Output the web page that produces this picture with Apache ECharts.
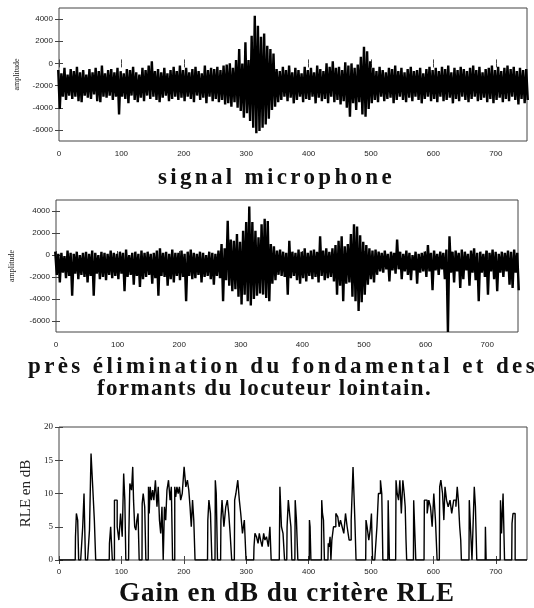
<!DOCTYPE html>
<html>
<head>
<meta charset="utf-8">
<script src="https://cdn.jsdelivr.net/npm/echarts@6.0.0/dist/echarts.min.js"></script>
<style>
  body { margin: 0; background: #fff; }
  #wrap { position: relative; width: 534px; height: 608px; overflow: hidden; }
  #chart { width: 534px; height: 608px; }
  .cap {
    position: absolute;
    font-family: 'Liberation Serif', serif;
    font-weight: bold;
    color: #111;
    white-space: nowrap;
    line-height: 1;
  }
</style>
</head>
<body>
<div id="wrap">
  <div id="chart"></div>
  <div class="cap" id="t1">signal microphone</div>
  <div class="cap" id="t2a">près élimination du fondamental et des</div>
  <div class="cap" id="t2b">formants du locuteur lointain.</div>
  <div class="cap" id="t3">Gain en dB du critère RLE</div>
</div>
<script>
// échantillons toutes les 5 unités, de 0 à 750
const STEP = 5

// signal microphone : enveloppe haute / basse
const micHi = [
  -600, -900, -400, -1000, -500, -700, -300, -800, -600, -1000,
  -500, -800, -400, -700, -200, -900, -600, -500, -800, -400,
  -700, -900, -500, -600, -300, -800, -1000, -400, -600, -200,
  200, -700, -500, -800, -400, -900, -600, -300, -700, -200,
  -600, -400, -800, -500, -300, -700, -900, -200, -600, -400,
  -500, -300, -600, -200, -100, 0, -400, 300, 1300, 0,
  1900, 300, 2500, 4300, 3400, 2400, 2700, 1600, 1300, 900,
  -500, -700, -300, -600, -200, -800, -400, -600, -900, -300,
  -600, -400, -800, -200, -500, -700, 0, -300, 200, -400,
  -300, -600, 100, -200, 0, -400, -100, 600, 1500, 1100,
  200, -400, -700, -300, -600, -800, -400, -500, -200, -700,
  -400, -800, -500, -300, -700, -600, -400, -900, -500, -300,
  -600, -400, -700, -300, -500, -200, -800, -400, -600, -300,
  -500, -700, -400, -200, -600, -300, -800, -500, -400, -200,
  -600, -300, -700, -400, -200, -500, -300, -700, -400, -600,
  -500
]
const micLo = [
  -4100, -3000, -3300, -2900, -3200, -3000, -3400, -3500, -2900, -3100,
  -3200, -2800, -3400, -3500, -3000, -3100, -2900, -3300, -3000, -4600,
  -3000, -3200, -3600, -2900, -3300, -3500, -3100, -3400, -2900, -3200,
  -3000, -3300, -3500, -3100, -2900, -3400, -3200, -3000, -3300, -3100,
  -3400, -3000, -3200, -3500, -2900, -3300, -3100, -3600, -3000, -3400,
  -3200, -3500, -3300, -3700, -3600, -3900, -3500, -4000, -4300, -4900,
  -4500, -5200, -5800, -6300, -6100, -5800, -5500, -5000, -4200, -3900,
  -3500, -3300, -3000, -3400, -3100, -3600, -3300, -3000, -3500, -3200,
  -3300, -3000, -3600, -3100, -3400, -3200, -3600, -3000, -3500, -3300,
  -3700, -3400, -4000, -4800, -3600, -4200, -3500, -4600, -4800, -4100,
  -3600, -3300, -3500, -3000, -3400, -3200, -3100, -3600, -3300, -3000,
  -3300, -3500, -3100, -3400, -3000, -3300, -3600, -3200, -3000, -3400,
  -3200, -3500, -3000, -3400, -3300, -3100, -3600, -3200, -3400, -3000,
  -3300, -3500, -3200, -3000, -3400, -3300, -3100, -3500, -3200, -3600,
  -3300, -3100, -3500, -3200, -3400, -3000, -3300, -3700, -3200, -3600,
  -3300
]

// après élimination du fondamental et des formants
const cleanHi = [
  300, 100, 200, -100, 400, 200, 100, 300, 0, 200,
  300, 100, 400, 200, 0, 300, 200, 100, 400, 200,
  100, 300, 200, 500, 0, 200, 300, 100, 400, 200,
  300, 100, 200, 400, 600, 200, 300, 100, 500, 200,
  200, 400, 100, 300, 500, 200, 100, 300, 200, 0,
  300, 200, 100, 400, 1000, 600, 3100, 1400, 1300, 1900,
  1200, 2200, 3000, 4400, 3000, 2200, 1600, 2800, 3300, 3100,
  1000, 800, 400, 500, 300, 200, 1300, 300, 200, 500,
  300, 600, 200, 400, 500, 300, 1700, 400, 600, 300,
  600, 900, 1300, 1700, 800, 1000, 1900, 2800, 2600, 1800,
  1200, 900, 600, 400, 500, 300, 200, 400, 100, 300,
  200, 1400, 300, 100, 400, 200, 0, 300, 100, 200,
  300, 900, 200, 400, 100, 300, 200, 500, 1700, 300,
  400, 200, 500, 300, 100, 400, 600, 200, 300, 100,
  400, 200, 500, 300, 100, 300, 200, 400, 300, 500,
  200
]
const cleanLo = [
  -1800, -2500, -1600, -2100, -1900, -3700, -1700, -2200, -1800, -2000,
  -2500, -1900, -3700, -1700, -2200, -2000, -2300, -1800, -2100, -1900,
  -2200, -1700, -3300, -2000, -1800, -2700, -1900, -2900, -2200, -2000,
  -1800, -2600, -2100, -3700, -1900, -2000, -2800, -2200, -2500, -1900,
  -2300, -2000, -4200, -1900, -2200, -2100, -1800, -2500, -2000, -1900,
  -2200, -2700, -1900, -2100, -4200, -2300, -2800, -3300, -3100, -3800,
  -4500, -3600, -4200, -4600, -4000, -3700, -3500, -3600, -3900, -4200,
  -2600, -2300, -1800, -1900, -2000, -3600, -2100, -1900, -2300, -2600,
  -2100, -2400, -1900, -2200, -2000, -2500, -1900, -2300, -2100, -2000,
  -2400, -3600, -2800, -4200, -2600, -2500, -3800, -4200, -5100, -4300,
  -3600, -2700, -2200, -2500, -1800, -1500, -1600, -1300, -2400, -1400,
  -1700, -1300, -2200, -1500, -1800, -2300, -1400, -2600, -1600, -1500,
  -2000, -1500, -3200, -1400, -1800, -1300, -2200, -7000, -1600, -2500,
  -1500, -3000, -2200, -1400, -2800, -1600, -2300, -4200, -1600, -2000,
  -3600, -1500, -2200, -3300, -1600, -2000, -1500, -2700, -3000, -1600,
  -3200
]

// gain RLE en dB
const rlePos = [
  0, 26, 26.8, 28.9, 31, 32,
  37.5, 38.5, 41.7, 43,
  48.5, 49.2, 53.5, 55.6, 57.7, 59.9,
  80.5, 81.2, 84.4, 86.5,
  88.5, 89.2, 91.9, 94.6, 97.3, 100, 102.6, 104.7, 106.3, 107.9,
  111.5, 112.2, 114.9, 117.6, 118.7, 120.2, 122.4, 124, 125.6, 127.7, 129.3,
  133, 133.6, 136.3, 138.4, 140,
  143, 143.8, 145.3, 147, 149.1, 151, 153, 156, 158, 160, 162, 164, 166, 168, 170, 172, 174, 177, 179, 181, 183,
  185, 186, 188, 190, 192, 194, 196, 199, 202, 204.5, 207, 209, 211, 213, 215, 217, 219,
  238, 239, 241.5, 244, 246, 250, 251, 253, 255,
  259, 260, 262.5, 266, 268.5, 271, 273, 275.5, 278,
  281, 282, 285, 288, 290, 292.5, 295.5, 298.5, 301,
  312, 313, 315, 318, 320, 322, 324, 327, 329, 331, 334, 337, 339, 341,
  353, 355, 358, 360, 363,
  365, 366, 369, 371, 372.3, 374,
  378, 379, 382, 383.5,
  401, 401.7, 403, 404.4,
  420.5, 421.5, 423, 424.7, 426,
  431, 432, 433.8, 435, 436.5, 438, 441.8, 445.5, 448, 449.8, 452.4, 455, 457.8, 460.5, 463, 466.9, 469.6, 472.8, 475.5, 476.5,
  491.5, 492.5, 495, 497.9, 499.4, 502, 503,
  509, 510, 513.8, 516.5, 518, 520,
  527, 528, 531,
  539.5, 540.7, 543.3, 545, 547.5, 549.7, 552.4, 554, 555.6, 556.6, 557.7,
  568, 568.8, 571, 572.6,
  585, 586, 588.7, 591.3, 594, 596.7, 599.3, 602, 604.6, 607.3,
  609.5, 610.6, 613.3, 616, 617.5, 619.7, 622.4, 625, 628.3, 630.4, 634.7, 637.4, 639, 641, 643.3, 644.3, 645.4,
  657, 658, 660.7, 663, 665, 666, 668.7, 670.3,
  683, 683.7, 685.3,
  707, 708, 710.3, 713, 715,
  725.5, 726.5, 728.6, 730, 732, 750
]
const rleGain = [
  0, 0, 3.5, 7, 6, 0,
  0, 5, 10, 0,
  0, 4.5, 16, 10, 6, 0,
  0, 2.5, 5, 0,
  0, 9, 9, 5, 3, 7, 3.5, 13, 9, 0,
  0, 3.5, 11.5, 10.5, 14, 9, 5, 4.5, 6, 7, 0,
  0, 8.5, 10, 8, 0,
  0, 11, 7, 11, 9, 10.5, 9, 12, 8, 11, 6, 4, 8, 0, 8, 6, 10.5, 12, 9, 11, 0,
  0, 11, 9.5, 11, 10, 11, 9, 10, 14, 11, 12, 10.5, 8, 5, 9, 6, 0,
  0, 6, 9, 7, 0, 0, 12, 10, 0,
  0, 6, 9, 5, 8, 9, 7, 4, 0,
  0, 9, 10, 12, 9, 7, 4, 6, 0,
  0, 2, 4, 3.5, 2.5, 4, 3, 2, 4, 3, 3.5, 2, 5, 0,
  0, 11, 5, 4, 0,
  0, 5, 9, 6.5, 5, 0,
  0, 9, 6, 0,
  0, 6, 5, 0,
  0, 9, 7, 6, 0,
  0, 2.5, 2, 3.5, 0, 3, 5, 7, 6.5, 5, 6, 5, 4, 7, 5, 3, 6, 14, 6, 0,
  0, 6, 5, 3, 4.5, 7, 0,
  0, 5, 10, 12, 10, 0,
  0, 9, 0,
  0, 12, 10, 9, 12, 7, 12, 10, 8, 3, 0,
  0, 9, 5, 0,
  0, 9, 9, 7, 9, 8, 5, 10, 6, 0,
  0, 11, 12, 10, 6, 11, 9, 8, 9, 7, 9, 8, 11, 9, 5, 3, 0,
  0, 9, 5, 0, 0, 11, 8, 0,
  0, 5, 0,
  0, 9, 4, 10, 0,
  0, 5.5, 7, 7, 0, 0
]

const xTicks = [0, 100, 200, 300, 400, 500, 600, 700]
const ampTicks = [-6000, -4000, -2000, 0, 2000, 4000]
const rleTicks = [0, 5, 10, 15, 20]

const AXIS_COLOR = '#444'
const LABEL_COLOR = '#222'

const chart = echarts.init(document.getElementById('chart'))

// chaque échantillon : crête à gauche, creux à droite -> tracé en dents de scie
const wave = (hi, lo) =>
  hi.flatMap((h, i) => [
    [i * STEP - STEP / 4, h],
    [i * STEP + STEP / 4, lo[i]],
  ])

const plain = (v) => String(v)

const xPair = (g, margin) => [
  {
    type: 'value', gridIndex: g, min: 0, max: 750, position: 'bottom',
    axisLine: { show: false }, splitLine: { show: false },
    axisTick: { inside: true, length: 4, customValues: xTicks, lineStyle: { color: AXIS_COLOR } },
    axisLabel: { customValues: xTicks, formatter: plain, margin: margin, fontSize: 8, fontFamily: 'Liberation Sans', color: LABEL_COLOR },
  },
  {
    type: 'value', gridIndex: g, min: 0, max: 750, position: 'top',
    axisLine: { show: false }, splitLine: { show: false },
    axisTick: { inside: true, length: 4, customValues: xTicks, lineStyle: { color: AXIS_COLOR } },
    axisLabel: { show: false },
  },
]

const yPair = (g, min, max, ticks, name, nameGap, nameSize, labelFont, labelSize) => [
  {
    type: 'value', gridIndex: g, min: min, max: max, position: 'left',
    name: name, nameLocation: 'middle', nameGap: nameGap,
    nameTextStyle: { fontSize: nameSize, fontFamily: 'Liberation Serif', color: LABEL_COLOR },
    axisLine: { show: false }, splitLine: { show: false },
    axisTick: { inside: true, length: 4, customValues: ticks, lineStyle: { color: AXIS_COLOR } },
    axisLabel: { customValues: ticks, formatter: plain, margin: 6, fontSize: labelSize, fontFamily: labelFont, color: LABEL_COLOR },
  },
  {
    type: 'value', gridIndex: g, min: min, max: max, position: 'right',
    axisLine: { show: false }, splitLine: { show: false },
    axisTick: { inside: true, length: 4, customValues: ticks, lineStyle: { color: AXIS_COLOR } },
    axisLabel: { show: false },
  },
]

const gridStyle = { show: true, borderColor: AXIS_COLOR, borderWidth: 1, backgroundColor: 'transparent' }

const option = {
  animation: false,
  backgroundColor: '#fff',
  grid: [
    { left: 59, top: 8, width: 468, height: 133, ...gridStyle },
    { left: 50, top: 200, width: 468, height: 132, ...gridStyle },
    { left: 59, top: 427, width: 468, height: 133, ...gridStyle },
  ],
  xAxis: [...xPair(0, 9), ...xPair(1, 9), ...xPair(2, 8)],
  yAxis: [
    ...yPair(0, -7000, 5000, ampTicks, 'amplitude', 38, 8, 'Liberation Sans', 8),
    ...yPair(1, -7000, 5000, ampTicks, 'amplitude', 40, 8, 'Liberation Sans', 8),
    ...yPair(2, 0, 20, rleTicks, 'RLE en dB', 22, 15, 'Liberation Serif', 9),
  ],
  series: [
    {
      name: 'signal microphone', type: 'line', xAxisIndex: 0, yAxisIndex: 0,
      showSymbol: false, symbol: 'none', clip: true,
      lineStyle: { color: '#000', width: 2.4, join: 'miter' },
      data: wave(micHi, micLo),
    },
    {
      name: 'signal nettoyé', type: 'line', xAxisIndex: 2, yAxisIndex: 2,
      showSymbol: false, symbol: 'none', clip: true,
      lineStyle: { color: '#000', width: 2.4, join: 'miter' },
      data: wave(cleanHi, cleanLo),
    },
    {
      name: 'RLE', type: 'line', xAxisIndex: 4, yAxisIndex: 4,
      showSymbol: false, symbol: 'none', step: 'middle',
      lineStyle: { color: '#000', width: 1.4 },
      data: rlePos.map((x, i) => [x, rleGain[i]]),
    },
  ],
}

chart.setOption(option)

// légendes sous les graphes, étirées sur la largeur lue dans l'original
const placeCap = (id, size, left, right, baseline) => {
  const el = document.getElementById(id)
  el.style.fontSize = size + 'px'
  el.style.letterSpacing = '0px'
  const natural = el.getBoundingClientRect().width
  const n = el.textContent.length
  el.style.letterSpacing = ((right - left - natural) / n) + 'px'
  el.style.left = left + 'px'
  el.style.top = (baseline - 0.8375 * size) + 'px'
}

placeCap('t1', 23, 158, 395, 184)
placeCap('t2a', 23, 28, 538, 373)
placeCap('t2b', 23, 97, 432, 395)
placeCap('t3', 27, 119, 455, 602)

window.addEventListener('resize', () => {
  chart.resize()
})
</script>
</body>
</html>
